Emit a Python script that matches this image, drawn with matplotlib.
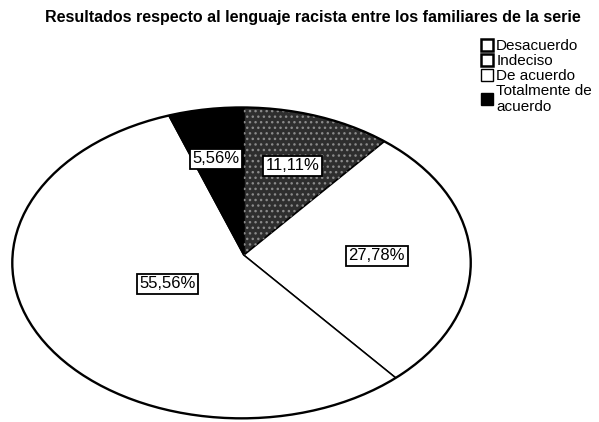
import matplotlib.pyplot as plt
from matplotlib.patches import Wedge, Patch, Ellipse

plt.rcParams["font.family"] = ["Liberation Sans", "DejaVu Sans"]
plt.rcParams["hatch.linewidth"] = 1.0

# datos
categorias = ["Desacuerdo", "Indeciso", "De acuerdo", "Totalmente de\nacuerdo"]
porcentajes = [11.11, 27.78, 55.56, 5.56]
etiquetas = ["11,11%", "27,78%", "55,56%", "5,56%"]

colores = ["#2e2e2e", "white", "white", "black"]
# posicion de cada etiqueta (coordenadas del eje)
pos_etiquetas = [(0.224, 0.624), (0.59, 0.045), (-0.323, -0.134), (-0.112, 0.669)]

fig = plt.figure(figsize=(5.99, 4.22), dpi=100)
ax = fig.add_axes([0.0167, 0.005, 0.773, 0.744])

# pie "inclinado": vertice un poco desplazado y recortado por la elipse
wedges, _ = ax.pie(porcentajes, colors=colores, startangle=90, counterclock=False,
                   center=(0.01, 0.05), radius=3,
                   wedgeprops=dict(edgecolor="black", linewidth=1.1))
ax.set_aspect("auto")
ax.set_xlim(-1.01, 1.01)
ax.set_ylim(-1.01, 1.01)

borde = Ellipse((0, 0), 2, 2, transform=ax.transData)
for w in wedges:
    w.set_clip_on(True)
    w.set_clip_path(borde)

# punteado del sector "Desacuerdo"
w = wedges[0]
punteado = Wedge(w.center, w.r, w.theta1, w.theta2, facecolor="none",
                 edgecolor="#8a8a8a", hatch="...", linewidth=0)
ax.add_patch(punteado)
punteado.set_clip_path(borde)

ax.add_patch(Ellipse((0, 0), 2, 2, fill=False, edgecolor="black", linewidth=1.7))

for txt, (x, y) in zip(etiquetas, pos_etiquetas):
    ax.text(x, y, txt, ha="center", va="center", fontsize=12,
            bbox=dict(boxstyle="square,pad=0.15", facecolor="white",
                      edgecolor="black", linewidth=1.3))

fig.text(0.523, 0.958, "Resultados respecto al lenguaje racista entre los familiares de la serie",
         ha="center", va="center", fontsize=11.5, fontweight="bold")

handles = [Patch(facecolor="white", edgecolor="black", linewidth=1.8),
           Patch(facecolor="white", edgecolor="black", linewidth=1.8),
           Patch(facecolor="white", edgecolor="black", linewidth=1.0),
           Patch(facecolor="black", edgecolor="black", linewidth=1.0)]
fig.legend(handles, categorias, loc="upper left", bbox_to_anchor=(0.79, 0.925),
           frameon=False, fontsize=11, handlelength=0.8, handleheight=0.8,
           handletextpad=0.2, labelspacing=0.05, borderpad=0)

plt.savefig("out.png", dpi=100, facecolor="white")
